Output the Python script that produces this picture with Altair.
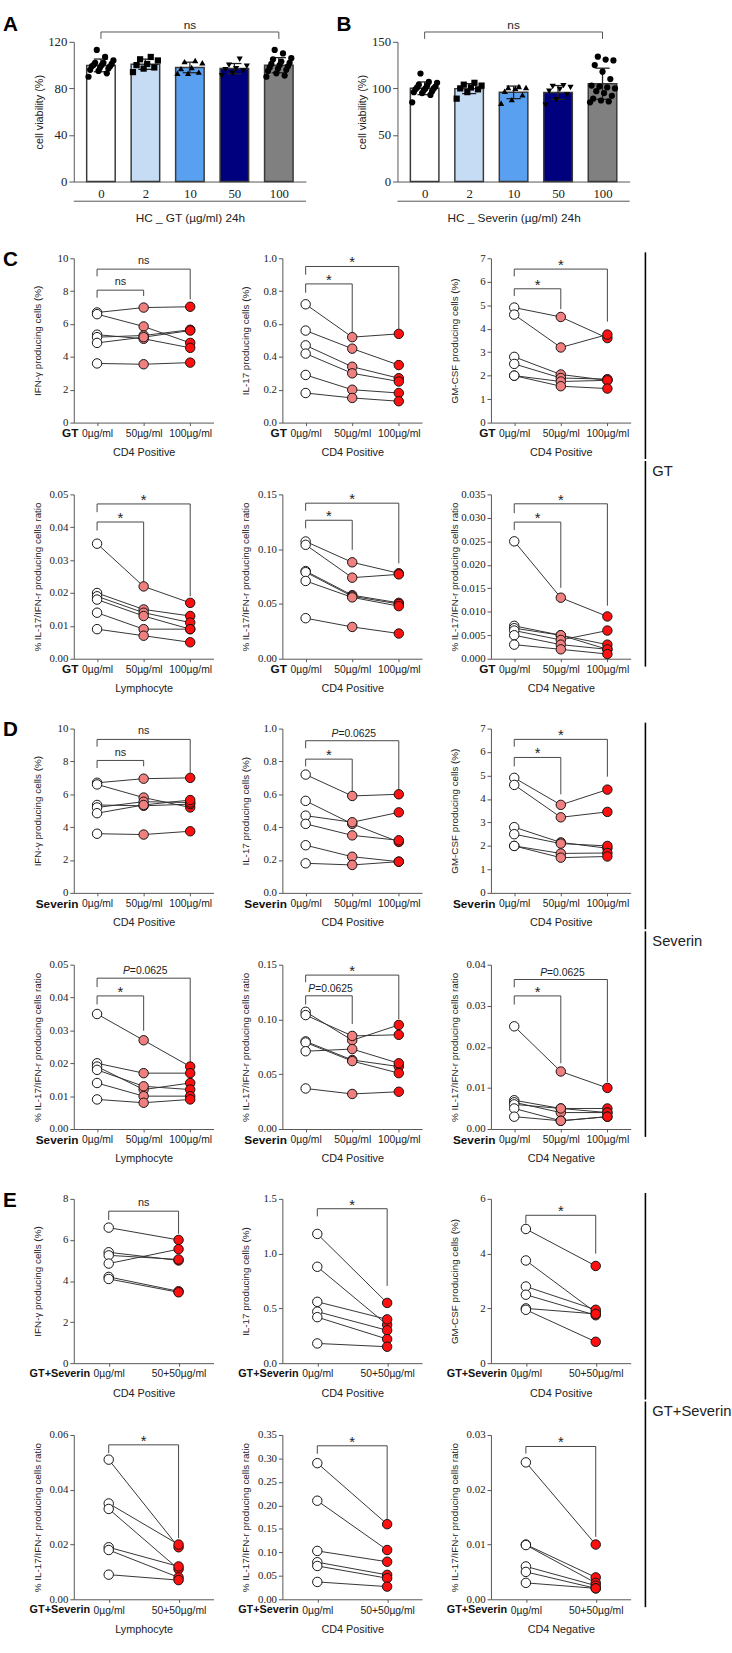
import json
import altair as alt
import pandas as pd

SANS = "Liberation Sans, Arial, sans-serif"
SERIF = "Liberation Serif, Times New Roman, serif"
AX = "#555555"
TXT = "#222222"

# ---------------- Panels A / B (cell viability) ----------------
AB_DOSES = ["0", "2", "10", "50", "100"]
AB_COLORS = ["#ffffff", "#c6dcf5", "#5aa0f0", "#00007f", "#808080"]
AB_SHAPES = ["circle", "square", "triangle-up", "triangle-down", "circle"]

A_0 = [113, 107, 104, 102, 102, 101, 100, 100, 99, 99, 98, 97, 96, 95, 93, 90]
A_2 = [107, 105, 104, 101, 100, 98, 97, 94]
A_10 = [104, 103, 102, 98, 97, 94, 93, 93]
A_50 = [105, 100, 99, 97, 96, 95, 93, 91]
A_100 = [113, 110, 106, 105, 103, 102, 101, 100, 99, 98, 97, 96, 95, 93, 91, 90]

B_0 = [116, 107, 106, 104, 103, 102, 101, 100, 100, 99, 98, 97, 96, 95, 93, 85]
B_2 = [106, 104, 103, 101, 100, 99, 96, 89]
B_10 = [102, 101, 101, 100, 97, 93, 88, 84]
B_50 = [103, 102, 101, 99, 97, 93, 88, 82]
B_100 = [134, 131, 130, 125, 118, 110, 103, 102, 101, 100, 97, 95, 92, 89, 87, 86, 85]

A_TICKS = [0, 40, 80, 120]
B_TICKS = [0, 50, 100, 150]

# ---------------- Panels C / D / E (paired donors) ----------------
X3 = ["0µg/ml", "50µg/ml", "100µg/ml"]
X2 = ["0µg/ml", "50+50µg/ml"]
PT3 = ["#ffffff", "#f08080", "#ff1010"]
PT2 = ["#ffffff", "#ff1010"]

ROW1_YT = ["IFN-γ producing cells (%)", "IL-17 producing cells (%)", "GM-CSF producing cells (%)"]
RATIO_YT = "% IL-17/IFN-r producing cells ratio"
ROW1_XT = ["CD4 Positive", "CD4 Positive", "CD4 Positive"]
ROW2_XT = ["Lymphocyte", "CD4 Positive", "CD4 Negative"]

# C (GT)
C_IFN = ([6.7, 6.6, 5.35, 5.2, 4.85, 3.6], [7.0, 5.85, 5.1, 5.3, 5.2, 3.55], [7.05, 4.85, 4.55, 5.65, 5.6, 3.65])
C_IL17 = ([0.72, 0.56, 0.47, 0.42, 0.29, 0.18], [0.52, 0.45, 0.34, 0.30, 0.20, 0.15], [0.54, 0.35, 0.27, 0.25, 0.18, 0.13])
C_GM = ([4.9, 4.6, 2.8, 2.5, 2.0, 2.0], [4.5, 3.2, 2.05, 1.9, 1.75, 1.55], [3.6, 3.75, 1.8, 1.85, 1.8, 1.45])
C_LYM = ([0.035, 0.020, 0.019, 0.018, 0.014, 0.009], [0.022, 0.015, 0.014, 0.013, 0.009, 0.007], [0.017, 0.013, 0.011, 0.009, 0.009, 0.005])
C_POS = ([0.107, 0.104, 0.080, 0.079, 0.071, 0.037], [0.088, 0.074, 0.058, 0.057, 0.056, 0.029], [0.078, 0.077, 0.051, 0.050, 0.048, 0.023])
C_NEG = ([0.025, 0.007, 0.0065, 0.006, 0.005, 0.003], [0.013, 0.005, 0.005, 0.004, 0.003, 0.002], [0.009, 0.002, 0.003, 0.006, 0.002, 0.001])

# D (Severin)
D_IFN = ([6.7, 6.6, 5.35, 5.2, 4.85, 3.6], [6.95, 5.8, 5.3, 5.55, 5.35, 3.55], [7.0, 5.2, 5.4, 5.5, 5.65, 3.75])
D_IL17 = ([0.72, 0.56, 0.47, 0.42, 0.29, 0.18], [0.59, 0.42, 0.43, 0.35, 0.22, 0.17], [0.60, 0.31, 0.49, 0.32, 0.19, 0.19])
D_GM = ([4.9, 4.6, 2.8, 2.5, 2.0, 2.0], [3.75, 3.22, 2.15, 2.1, 1.68, 1.5], [4.4, 3.45, 1.9, 2.0, 1.7, 1.55])
D_LYM = ([0.035, 0.020, 0.019, 0.018, 0.014, 0.009], [0.027, 0.017, 0.012, 0.013, 0.010, 0.008], [0.019, 0.017, 0.014, 0.012, 0.010, 0.009])
D_POS = ([0.107, 0.104, 0.080, 0.079, 0.071, 0.037], [0.081, 0.085, 0.063, 0.062, 0.073, 0.032], [0.095, 0.086, 0.057, 0.051, 0.060, 0.034])
D_NEG = ([0.025, 0.007, 0.0065, 0.006, 0.005, 0.003], [0.014, 0.005, 0.004, 0.005, 0.002, 0.002], [0.010, 0.005, 0.004, 0.004, 0.003, 0.003])

# E (GT+Severin)
E_IFN = ([6.6, 5.4, 5.25, 4.85, 4.2, 4.1], [6.0, 5.0, 5.05, 5.55, 3.5, 3.45])
E_IL17 = ([1.18, 0.88, 0.56, 0.47, 0.42, 0.18], [0.55, 0.35, 0.40, 0.30, 0.22, 0.15])
E_GM = ([4.9, 3.75, 2.8, 2.5, 2.0, 1.95], [3.55, 1.85, 1.95, 1.75, 1.80, 0.78])
E_LYM = ([0.051, 0.035, 0.033, 0.019, 0.018, 0.009], [0.019, 0.020, 0.011, 0.012, 0.008, 0.007])
E_POS = ([0.29, 0.21, 0.103, 0.079, 0.071, 0.037], [0.16, 0.105, 0.08, 0.052, 0.045, 0.027])
E_NEG = ([0.025, 0.010, 0.0099, 0.006, 0.005, 0.003], [0.010, 0.004, 0.003, 0.0025, 0.002, 0.002])

# Significance brackets: (from, to, level, left foot, right foot, label) in data units
BR_C = [
    [(0, 1, 8.06, 7.6, 7.7, "ns"), (0, 2, 9.34, 8.9, 7.5, "ns")],
    [(0, 1, 0.844, 0.79, 0.55, "*"), (0, 2, 0.95, 0.90, 0.57, "*")],
    [(0, 1, 5.70, 5.39, 4.83, "*"), (0, 2, 6.54, 6.23, 4.30, "*")],
    [(0, 1, 0.0416, 0.039, 0.0231, "*"), (0, 2, 0.0471, 0.0446, 0.0190, "*")],
    [(0, 1, 0.1264, 0.119, 0.0994, "*"), (0, 2, 0.142, 0.135, 0.087, "*")],
    [(0, 1, 0.0291, 0.0274, 0.0151, "*"), (0, 2, 0.033, 0.031, 0.0113, "*")],
]
BR_D = [
    [(0, 1, 8.06, 7.6, 7.7, "ns"), (0, 2, 9.34, 8.9, 7.3, "ns")],
    [(0, 1, 0.814, 0.77, 0.61, "*"), (0, 2, 0.926, 0.88, 0.63, "P=0.0625")],
    [(0, 1, 5.77, 5.39, 4.2, "*"), (0, 2, 6.54, 6.23, 4.95, "*")],
    [(0, 1, 0.0405, 0.0379, 0.0299, "*"), (0, 2, 0.0459, 0.0432, 0.0195, "P=0.0625")],
    [(0, 1, 0.1216, 0.1136, 0.0958, "P=0.0625"), (0, 2, 0.1405, 0.134, 0.1003, "*")],
    [(0, 1, 0.0324, 0.0303, 0.016, "*"), (0, 2, 0.0364, 0.0345, 0.0114, "P=0.0625")],
]
BR_E = [
    [(0, 1, 7.4, 6.97, 6.3, "ns")],
    [(0, 1, 1.41, 1.34, 0.706, "*")],
    [(0, 1, 5.4, 5.1, 4.0, "*")],
    [(0, 1, 0.0564, 0.0534, 0.0223, "*")],
    [(0, 1, 0.327, 0.31, 0.171, "*")],
    [(0, 1, 0.0279, 0.0266, 0.0114, "*")],
]

# y axes: (max, ticks, format)
Y_CD = [
    (10, [0, 2, 4, 6, 8, 10], ".0f"),
    (1.0, [0, 0.2, 0.4, 0.6, 0.8, 1.0], ".1f"),
    (7, [0, 1, 2, 3, 4, 5, 6, 7], ".0f"),
    (0.05, [0, 0.01, 0.02, 0.03, 0.04, 0.05], ".2f"),
    (0.15, [0, 0.05, 0.10, 0.15], ".2f"),
]
Y_C_NEG = (0.035, [0, 0.005, 0.01, 0.015, 0.02, 0.025, 0.03, 0.035], ".3f")
Y_D_NEG = (0.04, [0, 0.01, 0.02, 0.03, 0.04], ".2f")
Y_E = [
    (8, [0, 2, 4, 6, 8], ".0f"),
    (1.5, [0, 0.5, 1.0, 1.5], ".1f"),
    (6, [0, 2, 4, 6], ".0f"),
    (0.06, [0, 0.02, 0.04, 0.06], ".2f"),
    (0.35, [0, 0.05, 0.10, 0.15, 0.20, 0.25, 0.30, 0.35], ".2f"),
    (0.03, [0, 0.01, 0.02, 0.03], ".2f"),
]

LW, LH = 142, 167   # line panel plot size
BW, BH = 236, 142   # bar panel plot size
TOP, BOT = 34, 37   # invisible frame around each line panel (sets the layout bounds)


def one(**cols):
    if not cols:
        cols = {"k": [0]}
    return alt.Chart(pd.DataFrame(cols))


def frame(x0, x1, y0, y1):
    # transparent diagonal rule that fixes each panel's bounding box
    return one().mark_rule(strokeOpacity=0, strokeWidth=1).encode(
        x=alt.value(x0), x2=alt.value(x1), y=alt.value(y0), y2=alt.value(y1))


def bar_panel(groups, ymax, yticks, xtitle, letter, letter_x, left):
    rows = [{"dose": AB_DOSES[i], "pos": i, "v": v, "fc": AB_COLORS[i], "sh": AB_SHAPES[i]}
            for i, g in enumerate(groups) for v in g]
    df = pd.DataFrame(rows)
    xs = alt.Scale(domain=[-0.5, 4.5], nice=False, zero=False)
    ys = alt.Scale(domain=[0, ymax], nice=False)
    xaxis = alt.Axis(values=[0, 1, 2, 3, 4], labelExpr=json.dumps(AB_DOSES) + "[datum.value]",
                     title=xtitle, grid=False, ticks=False, domainColor=AX, labelPadding=6,
                     labelFont=SERIF, labelFontSize=13, labelColor=TXT, labelOverlap=False,
                     labelFlush=False, titleFont=SANS, titleFontSize=12, titleFontWeight="normal",
                     titleColor=TXT, titlePadding=13)
    yaxis = alt.Axis(values=yticks, title="cell viability  (%)", grid=False, tickSize=5,
                     tickColor=AX, domainColor=AX, labelPadding=2, labelFont=SERIF,
                     labelFontSize=13, labelColor=TXT, titleFont=SANS, titleFontSize=11,
                     titleFontWeight="normal", titleColor=TXT, titleX=-30)
    X = alt.X("pos:Q", scale=xs, axis=xaxis)
    base = alt.Chart(df)
    bars = base.mark_bar(width=29, stroke="#3a3a3a", strokeWidth=1.5).encode(
        x=X,
        y=alt.Y("mean(v):Q", scale=ys, axis=yaxis),
        fill=alt.Fill("fc:N", scale=None),
    )
    stats = base.transform_aggregate(m="mean(v)", s="stdev(v)", groupby=["pos"]).transform_calculate(
        lo="datum.m - datum.s", hi="datum.m + datum.s", xa="datum.pos - 0.16", xb="datum.pos + 0.16")
    err = stats.mark_rule(color="#222222", strokeWidth=1.3).encode(
        x=X, y=alt.Y("lo:Q", scale=ys, axis=yaxis), y2="hi:Q")
    cap_hi = stats.mark_rule(color="#222222", strokeWidth=1.3).encode(
        x=alt.X("xa:Q", scale=xs, axis=xaxis), x2="xb:Q", y=alt.Y("hi:Q", scale=ys, axis=yaxis))
    cap_lo = stats.mark_rule(color="#222222", strokeWidth=1.3).encode(
        x=alt.X("xa:Q", scale=xs, axis=xaxis), x2="xb:Q", y=alt.Y("lo:Q", scale=ys, axis=yaxis))
    pts = base.transform_window(rk="row_number()", n="count()", groupby=["dose"], frame=[None, None]).transform_calculate(
        jx="datum.pos + ((((datum.rk * 5) % datum.n) / (datum.n - 1)) - 0.5) * 0.56"
    ).mark_point(filled=True, color="black", size=40, opacity=1).encode(
        x=alt.X("jx:Q", scale=xs, axis=xaxis),
        y=alt.Y("v:Q", scale=ys, axis=yaxis),
        shape=alt.Shape("sh:N", scale=None),
    )
    br = one(a=[0], b=[4], m=[2])
    br_h = br.mark_rule(color=AX, strokeWidth=1).encode(
        x=alt.X("a:Q", scale=xs, axis=xaxis), x2="b:Q", y=alt.value(-10))
    br_l = br.mark_rule(color=AX, strokeWidth=1).encode(
        x=alt.X("a:Q", scale=xs, axis=xaxis), y=alt.value(-10), y2=alt.value(-3))
    br_r = br.mark_rule(color=AX, strokeWidth=1).encode(
        x=alt.X("b:Q", scale=xs, axis=xaxis), y=alt.value(-10), y2=alt.value(-3))
    br_t = br.mark_text(font=SANS, fontSize=12, color=TXT, baseline="alphabetic").encode(
        x=alt.X("m:Q", scale=xs, axis=xaxis), y=alt.value(-13), text=alt.value("ns"))
    underline = one().mark_rule(color=AX, strokeWidth=1).encode(
        x=alt.value(0), x2=alt.value(BW), y=alt.value(BH + 20))
    let = one().mark_text(align="left", baseline="alphabetic", font=SANS, fontSize=21,
                          fontWeight="bold", color="black").encode(
        x=alt.value(letter_x), y=alt.value(-11), text=alt.value(letter))
    fr = frame(left, BW + 4, -29, BH + 44)
    return alt.layer(fr, bars, err, cap_hi, cap_lo, pts, br_h, br_l, br_r, br_t, underline, let).properties(
        width=BW, height=BH)


def line_panel(vals, xlabels, yspec, ytitle, xtitle, prefix, brackets, col, row,
               letter=None, side_label=None):
    ymax, yticks, yfmt = yspec
    n = len(xlabels)
    colors = PT3 if n == 3 else PT2
    rows = [{"donor": d, "xi": j, "v": v, "fc": colors[j]}
            for j, c in enumerate(vals) for d, v in enumerate(c)]
    df = pd.DataFrame(rows)
    xs = alt.Scale(domain=[-0.5, n - 0.5], nice=False, zero=False)
    ys = alt.Scale(domain=[0, ymax], nice=False, zero=False)
    xaxis = alt.Axis(values=list(range(n)),
                     labelExpr=json.dumps(xlabels, ensure_ascii=False) + "[datum.value]",
                     title=xtitle, grid=False, tickSize=3, tickColor=AX, domainColor=AX,
                     labelPadding=3, labelFont=SANS, labelFontSize=10.5, labelColor=TXT,
                     labelOverlap=False, labelFlush=False, titleFont=SANS, titleFontSize=11,
                     titleFontWeight="normal", titleColor=TXT, titlePadding=8)
    yaxis = alt.Axis(values=yticks, format=yfmt, title=ytitle, grid=False, tickSize=4,
                     tickColor=AX, domainColor=AX, labelPadding=2, labelFont=SERIF,
                     labelFontSize=11, labelColor=TXT, titleFont=SANS, titleFontSize=10,
                     titleFontWeight="normal", titleColor=TXT, titleX=-32)
    X = alt.X("xi:Q", scale=xs, axis=xaxis)
    Y = alt.Y("v:Q", scale=ys, axis=yaxis)
    base = alt.Chart(df)
    lines = base.mark_line(color="#333333", strokeWidth=1).encode(
        x=X, y=Y, detail="donor:N", order="xi:Q")
    pts = base.mark_circle(size=92, opacity=1, stroke="#111111", strokeWidth=1).encode(
        x=X, y=Y, fill=alt.Fill("fc:N", scale=None))
    seg, labs = [], []
    for (a, b, lev, lb, rb, lab) in brackets:
        seg += [{"x1": a, "x2": b, "y1": lev, "y2": lev},
                {"x1": a, "x2": a, "y1": lev, "y2": lb},
                {"x1": b, "x2": b, "y1": lev, "y2": rb}]
        isp = lab.startswith("P=")
        labs.append({"xm": (a + b) / 2, "lev": lev, "lab": lab,
                     "pa": "P" if isp else "", "pb": lab[1:] if isp else "",
                     "kind": "p" if isp else ("star" if lab == "*" else "ns")})
    sdf = alt.Chart(pd.DataFrame(seg))
    rules = sdf.mark_rule(color="#444444", strokeWidth=1).encode(
        x=alt.X("x1:Q", scale=xs, axis=xaxis), x2="x2:Q",
        y=alt.Y("y1:Q", scale=ys, axis=yaxis), y2="y2:Q")
    ldf = alt.Chart(pd.DataFrame(labs))
    LX = alt.X("xm:Q", scale=xs, axis=xaxis)
    LY = alt.Y("lev:Q", scale=ys, axis=yaxis)
    star = ldf.transform_filter("datum.kind == 'star'").mark_text(
        font=SANS, fontSize=15, color=TXT, baseline="alphabetic", dy=1).encode(x=LX, y=LY, text="lab:N")
    ns = ldf.transform_filter("datum.kind == 'ns'").mark_text(
        font=SANS, fontSize=11, color=TXT, baseline="alphabetic", dy=-5).encode(x=LX, y=LY, text="lab:N")
    pa = ldf.transform_filter("datum.kind == 'p'").mark_text(
        font=SANS, fontSize=10.5, fontStyle="italic", color=TXT, baseline="alphabetic",
        align="right", dx=-14, dy=-4).encode(x=LX, y=LY, text="pa:N")
    pb = ldf.transform_filter("datum.kind == 'p'").mark_text(
        font=SANS, fontSize=10.5, color=TXT, baseline="alphabetic",
        align="left", dx=-14, dy=-4).encode(x=LX, y=LY, text="pb:N")
    pre = one().mark_text(align="right", baseline="middle", font=SANS, fontWeight="bold",
                          fontSize=12 if len(prefix) < 8 else 11, color="#111111", dx=-19).encode(
        x=alt.X("k:Q", scale=xs, axis=xaxis), y=alt.value(LH + 11), text=alt.value(prefix))
    left = -75 if col == 0 else -55
    layers = [frame(left, LW + 4, -TOP, LH + BOT), lines, rules, pts, star, ns, pa, pb, pre]
    if letter:
        layers.append(one().mark_text(align="left", baseline="alphabetic", font=SANS, fontSize=21,
                                      fontWeight="bold", color="black").encode(
            x=alt.value(-72), y=alt.value(8), text=alt.value(letter)))
    if col == 2:
        y0, y1 = (-6, LH + BOT) if row == 0 else (-TOP, LH + 8)
        layers.append(one().mark_rule(color="black", strokeWidth=1.6).encode(
            x=alt.value(LW + 15), y=alt.value(y0), y2=alt.value(y1)))
        if side_label:
            layers.append(one().mark_text(align="left", baseline="middle", font=SANS, fontSize=15,
                                          color=TXT).encode(
                x=alt.value(LW + 22), y=alt.value(-24), text=alt.value(side_label)))
    return alt.layer(*layers).properties(width=LW, height=LH)


def section_rows(data6, brs, yspecs, xlabels, prefix, letter, label):
    r1 = [line_panel(data6[i], xlabels, yspecs[i], ROW1_YT[i], ROW1_XT[i], prefix, brs[i], i, 0,
                     letter=letter if i == 0 else None) for i in range(3)]
    r2 = [line_panel(data6[3 + i], xlabels, yspecs[3 + i], RATIO_YT, ROW2_XT[i], prefix, brs[3 + i],
                     i, 1, side_label=label if i == 2 else None) for i in range(3)]
    return [alt.hconcat(*r1, spacing=11), alt.hconcat(*r2, spacing=11)]


panelA = bar_panel([A_0, A_2, A_10, A_50, A_100], 120, A_TICKS, "HC _ GT (µg/ml) 24h", "A", -72, -75)
panelB = bar_panel([B_0, B_2, B_10, B_50, B_100], 150, B_TICKS, "HC _ Severin (µg/ml) 24h", "B", -62, -55)
rowAB = alt.hconcat(panelA, panelB, spacing=27)

rows = [rowAB]
rows += section_rows([C_IFN, C_IL17, C_GM, C_LYM, C_POS, C_NEG], BR_C, Y_CD + [Y_C_NEG], X3, "GT", "C", "GT")
rows += section_rows([D_IFN, D_IL17, D_GM, D_LYM, D_POS, D_NEG], BR_D, Y_CD + [Y_D_NEG], X3, "Severin", "D", "Severin")
rows += section_rows([E_IFN, E_IL17, E_GM, E_LYM, E_POS, E_NEG], BR_E, Y_E, X2, "GT+Severin", "E", "GT+Severin")

chart = alt.vconcat(*rows, spacing=0).properties(
    padding={"left": 0, "top": 0, "right": 0, "bottom": 0},
    background="white",
).configure_view(strokeWidth=0)

chart.save("out.html", embed_options={"renderer": "svg", "actions": False})
